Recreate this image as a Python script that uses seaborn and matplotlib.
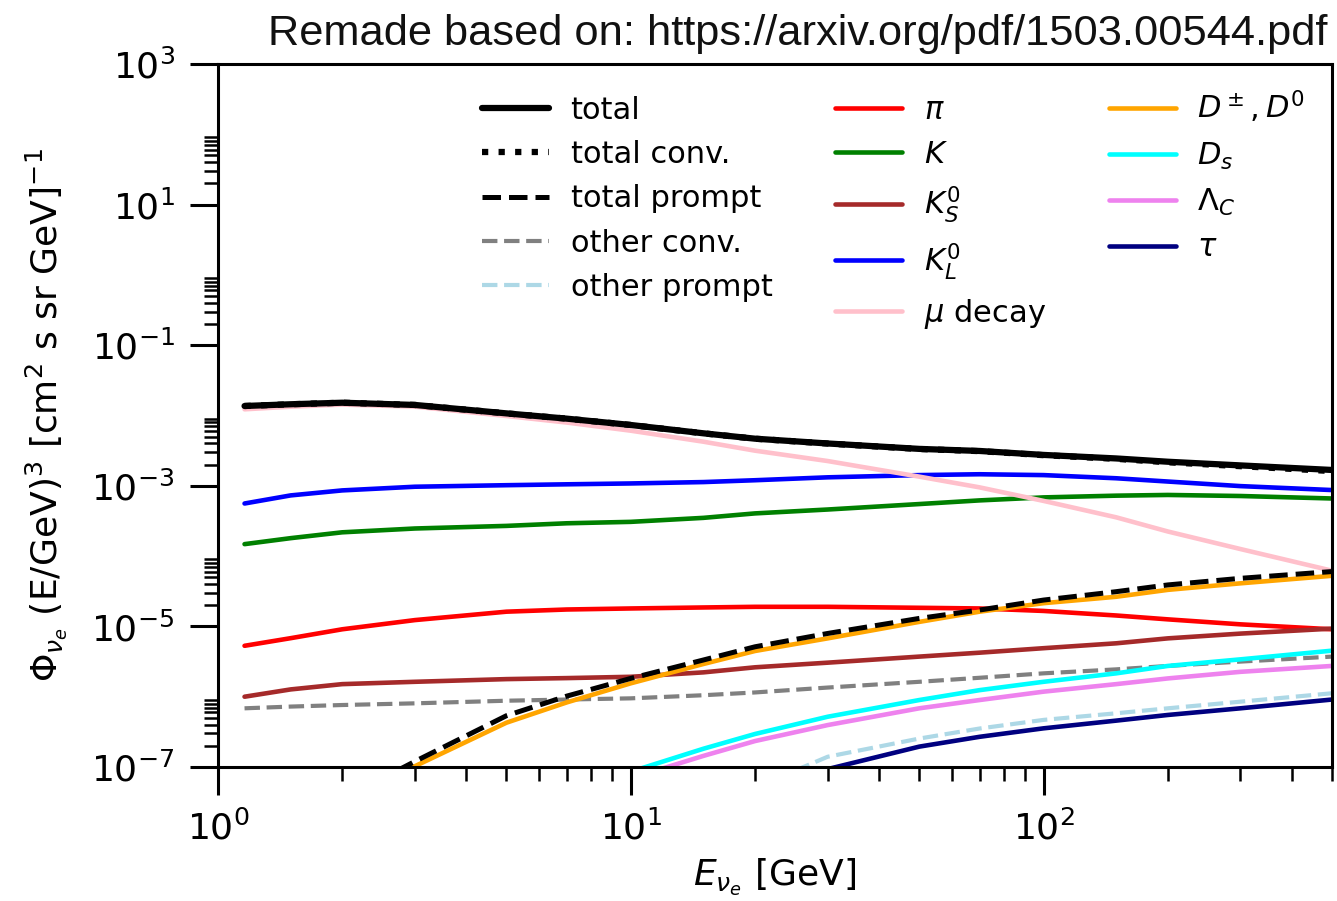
import numpy as np
import matplotlib
matplotlib.use("Agg")
import matplotlib.pyplot as plt
from matplotlib.ticker import FixedLocator
import seaborn as sns

# ---- neutrino energies [GeV] ----
E_conv = [1.16, 1.5, 2, 3, 5, 7, 10, 15, 20, 30, 50, 70, 100, 150, 200, 300, 500]
E_prompt = [2.7, 3, 5, 7, 10, 15, 20, 30, 50, 70, 100, 150, 200, 300, 500]
E_dpm = [2.85, 5, 7, 10, 15, 20, 30, 50, 70, 100, 150, 200, 300, 500]
E_ds = [10.2, 15, 20, 30, 50, 70, 100, 150, 200, 300, 500]
E_lambda = [11.5, 15, 20, 30, 50, 70, 100, 150, 200, 300, 500]
E_other_prompt = [25, 30, 50, 70, 100, 150, 200, 300, 500]
E_tau = [29, 50, 70, 100, 150, 200, 300, 500]

# ---- E^3-weighted nu_e fluxes [cm^2 s sr GeV]^-1 ----
flux_total = [1.365e-2, 1.445e-2, 1.52e-2, 1.413e-2, 1.072e-2, 9.02e-3, 7.33e-3, 5.58e-3,
              4.68e-3, 4.0e-3, 3.35e-3, 3.13e-3, 2.75e-3, 2.45e-3, 2.2e-3, 1.95e-3, 1.68e-3]
flux_total_conv = [1.365e-2, 1.445e-2, 1.52e-2, 1.413e-2, 1.072e-2, 9.02e-3, 7.33e-3, 5.577e-3,
                   4.675e-3, 3.992e-3, 3.337e-3, 3.113e-3, 2.726e-3, 2.419e-3, 2.161e-3, 1.902e-3, 1.62e-3]
flux_total_prompt = [8.7e-8, 1.2e-7, 5.37e-7, 1.02e-6, 1.82e-6, 3.33e-6, 5.13e-6, 7.94e-6,
                     1.30e-5, 1.71e-5, 2.37e-5, 3.12e-5, 3.89e-5, 4.83e-5, 6.03e-5]
flux_other_conv = [6.84e-7, 7.24e-7, 7.62e-7, 8.05e-7, 8.77e-7, 9.12e-7, 9.48e-7, 1.05e-6,
                   1.15e-6, 1.35e-6, 1.63e-6, 1.86e-6, 2.15e-6, 2.45e-6, 2.74e-6, 3.16e-6, 3.72e-6]
flux_other_prompt = [8.9e-8, 1.4e-7, 2.54e-7, 3.53e-7, 4.68e-7, 5.81e-7, 6.84e-7, 8.5e-7, 1.12e-6]
flux_pi = [5.3e-6, 6.8e-6, 9.1e-6, 1.23e-5, 1.62e-5, 1.74e-5, 1.8e-5, 1.86e-5, 1.9e-5,
           1.9e-5, 1.84e-5, 1.8e-5, 1.66e-5, 1.43e-5, 1.26e-5, 1.07e-5, 9.1e-6]
flux_K = [1.48e-4, 1.8e-4, 2.18e-4, 2.47e-4, 2.69e-4, 2.93e-4, 3.07e-4, 3.5e-4, 4.05e-4,
          4.6e-4, 5.5e-4, 6.2e-4, 6.84e-4, 7.24e-4, 7.41e-4, 7.16e-4, 6.6e-4]
flux_KS = [1.0e-6, 1.27e-6, 1.51e-6, 1.63e-6, 1.78e-6, 1.84e-6, 1.92e-6, 2.22e-6, 2.62e-6,
           3.05e-6, 3.72e-6, 4.23e-6, 4.9e-6, 5.75e-6, 6.76e-6, 7.9e-6, 9.3e-6]
flux_KL = [5.6e-4, 7.3e-4, 8.6e-4, 9.7e-4, 1.02e-3, 1.05e-3, 1.08e-3, 1.13e-3, 1.2e-3,
           1.32e-3, 1.42e-3, 1.46e-3, 1.42e-3, 1.28e-3, 1.15e-3, 9.9e-4, 8.7e-4]
flux_mu = [1.225e-2, 1.334e-2, 1.43e-2, 1.337e-2, 9.84e-3, 7.94e-3, 6.08e-3, 4.24e-3, 3.16e-3,
           2.25e-3, 1.35e-3, 9.5e-4, 6.1e-4, 3.56e-4, 2.24e-4, 1.26e-4, 6.2e-5]
flux_D = [8.9e-8, 4.27e-7, 8.3e-7, 1.55e-6, 2.92e-6, 4.47e-6, 6.76e-6, 1.16e-5, 1.62e-5,
          2.14e-5, 2.64e-5, 3.31e-5, 4.1e-5, 5.25e-5]
flux_Ds = [8.9e-8, 1.82e-7, 2.95e-7, 5.19e-7, 8.97e-7, 1.24e-6, 1.63e-6, 2.15e-6, 2.74e-6, 3.4e-6, 4.52e-6]
flux_Lc = [8.9e-8, 1.44e-7, 2.34e-7, 3.95e-7, 6.84e-7, 8.97e-7, 1.18e-6, 1.51e-6, 1.82e-6, 2.26e-6, 2.74e-6]
flux_tau = [8.9e-8, 1.95e-7, 2.69e-7, 3.55e-7, 4.57e-7, 5.5e-7, 6.84e-7, 9.12e-7]

sns.set_theme(style="ticks")
plt.rcParams.update({
    "font.family": ["DejaVu Sans"],
    "axes.linewidth": 2.2,
    "xtick.major.size": 20, "ytick.major.size": 20,
    "xtick.minor.size": 10, "ytick.minor.size": 10,
    "xtick.major.width": 2.2, "ytick.major.width": 2.2,
    "xtick.minor.width": 1.8, "ytick.minor.width": 1.8,
    "xtick.direction": "out", "ytick.direction": "out",
    "xtick.labelsize": 26, "ytick.labelsize": 26,
    "axes.labelsize": 26,
    "axes.edgecolor": "black",
    "xtick.color": "black", "ytick.color": "black",
    "text.color": "black", "axes.labelcolor": "black",
})

fig = plt.figure(figsize=(13.37, 9.01), dpi=100)
ax = fig.add_axes([0.163, 0.1487, 0.8333, 0.7803])

LW = 3.3


def draw(E, flux, label, color, lw=LW, ls="-"):
    sns.lineplot(x=E, y=flux, ax=ax, color=color, lw=lw, linestyle=ls,
                 label=label, sort=False, legend=False)


# background components first, totals drawn on top
draw(E_conv, flux_other_conv, "other conv.", "gray", lw=3.0, ls="--")
draw(E_other_prompt, flux_other_prompt, "other prompt", "lightblue", lw=3.0, ls="--")
draw(E_conv, flux_pi, r"$\pi$", "red")
draw(E_conv, flux_K, r"$K$", "green")
draw(E_conv, flux_KS, r"$K_S^0$", "brown")
draw(E_conv, flux_KL, r"$K_L^0$", "blue")
draw(E_conv, flux_mu, r"$\mu$ decay", "pink")
draw(E_dpm, flux_D, r"$D^\pm, D^0$", "orange")
draw(E_ds, flux_Ds, r"$D_s$", "cyan")
draw(E_lambda, flux_Lc, r"$\Lambda_C$", "violet")
draw(E_tau, flux_tau, r"$\tau$", "navy")
draw(E_conv, flux_total, "total", "black", lw=4.5)
draw(E_conv, flux_total_conv, "total conv.", "black", lw=4.5, ls=":")
draw(E_prompt, flux_total_prompt, "total prompt", "black", lw=3.6, ls="--")

ax.set_xscale("log")
ax.set_yscale("log")
ax.set_xlim(1, 500)
ax.set_ylim(1e-7, 1e3)

major_decades = [-7, -5, -3, -1, 1, 3]
ax.yaxis.set_major_locator(FixedLocator([10.0 ** d for d in major_decades]))
ax.yaxis.set_minor_locator(FixedLocator([s * 10.0 ** d for d in major_decades[:-1] for s in range(2, 10)]))
ax.tick_params(axis="x", which="major", pad=11)
ax.tick_params(axis="y", which="major", pad=11)

ax.set_xlabel(r"$E_{\nu_e}$ [GeV]", labelpad=7)
ax.set_ylabel(r"$\Phi_{\nu_e}$ (E/GeV)$^3$ [cm$^2$ s sr GeV]$^{-1}$", labelpad=16)

handles, labels = ax.get_legend_handles_labels()
lookup = dict(zip(labels, handles))
order = ["total", "total conv.", "total prompt", "other conv.", "other prompt",
         r"$\pi$", r"$K$", r"$K_S^0$", r"$K_L^0$", r"$\mu$ decay",
         r"$D^\pm, D^0$", r"$D_s$", r"$\Lambda_C$", r"$\tau$"]
ax.legend([lookup[k] for k in order], order, ncol=3, frameon=False, fontsize=22,
          loc="upper left", bbox_to_anchor=(0.226, 0.982), borderaxespad=0,
          handlelength=2.2, handletextpad=0.7, columnspacing=2.05)

credit = fig.text(1328 / 1337, 1 - 45 / 901, "Remade based on: https://arxiv.org/pdf/1503.00544.pdf",
                  ha="right", va="baseline", fontsize=30, color="#111111",
                  family=["Liberation Sans", "DejaVu Sans"])
fig.canvas.draw()
width = credit.get_window_extent().width
credit.set_fontsize(30 * 1056 / width)

fig.savefig("out.png", dpi=100)
